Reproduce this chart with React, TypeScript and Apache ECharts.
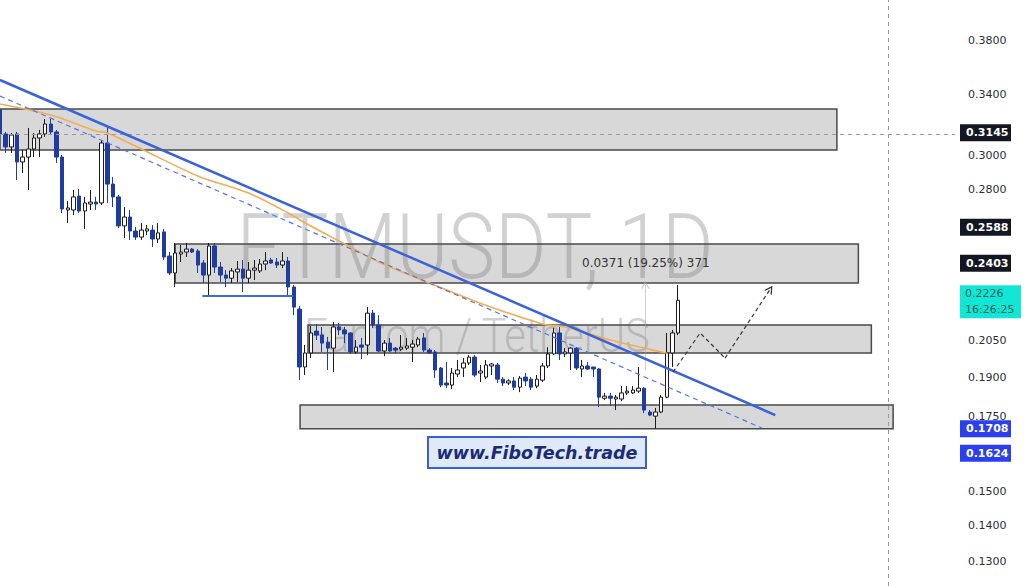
import { useEffect, useRef } from "react";
import * as echarts from "echarts";

// FTM/USDT daily candles, oldest first
const opens = [
  0.3296, 0.3137, 0.3054, 0.3137, 0.2961, 0.2991, 0.3041, 0.3111, 0.3137, 0.3202,
  0.3150, 0.2991, 0.2682, 0.2682, 0.2760, 0.2676, 0.2715, 0.2726, 0.2721, 0.3079,
  0.2829, 0.2755, 0.2595, 0.2643, 0.2568, 0.2536, 0.2568, 0.2573, 0.2526, 0.2563,
  0.2439, 0.2355, 0.2449, 0.2459, 0.2474, 0.2464, 0.2404, 0.2345, 0.2490, 0.2384,
  0.2345, 0.2330, 0.2360, 0.2374, 0.2330, 0.2369, 0.2365, 0.2399, 0.2419, 0.2409,
  0.2394, 0.2414, 0.2288, 0.2186, 0.1940, 0.1997, 0.2089, 0.2072, 0.2042, 0.2017,
  0.2107, 0.2094, 0.2081, 0.2001, 0.2030, 0.2030, 0.2168, 0.2115, 0.2005, 0.2038,
  0.2017, 0.2013, 0.2017, 0.2021, 0.2030, 0.2060, 0.2009, 0.2001, 0.1936, 0.1877,
  0.1869, 0.1912, 0.1936, 0.1956, 0.1980, 0.1916, 0.1900, 0.1944, 0.1948, 0.1892,
  0.1877, 0.1885, 0.1861, 0.1900, 0.1892, 0.1865, 0.1888, 0.1944, 0.1993, 0.2081,
  0.1993, 0.1997, 0.2017, 0.1932, 0.1944, 0.1940, 0.1932, 0.1819, 0.1827, 0.1816,
  0.1816, 0.1839, 0.1839, 0.1846, 0.1857, 0.1768, 0.1753, 0.1768, 0.1823, 0.1997,
  0.2081,
];
const highs = [
  0.3317, 0.3150, 0.3143, 0.3150, 0.3035, 0.3176, 0.3143, 0.3163, 0.3235, 0.3235,
  0.3163, 0.3004, 0.2732, 0.2795, 0.2800, 0.2755, 0.2795, 0.2755, 0.3098, 0.3183,
  0.2871, 0.2766, 0.2698, 0.2682, 0.2589, 0.2611, 0.2600, 0.2600, 0.2611, 0.2579,
  0.2459, 0.2505, 0.2495, 0.2505, 0.2479, 0.2474, 0.2419, 0.2505, 0.2505, 0.2409,
  0.2369, 0.2379, 0.2414, 0.2419, 0.2409, 0.2419, 0.2424, 0.2459, 0.2429, 0.2429,
  0.2459, 0.2434, 0.2297, 0.2200, 0.2030, 0.2111, 0.2120, 0.2107, 0.2064, 0.2129,
  0.2124, 0.2107, 0.2085, 0.2051, 0.2060, 0.2195, 0.2182, 0.2159, 0.2051, 0.2060,
  0.2021, 0.2072, 0.2060, 0.2051, 0.2064, 0.2081, 0.2017, 0.2009, 0.1940, 0.1960,
  0.1936, 0.1968, 0.1976, 0.1988, 0.1988, 0.1948, 0.1968, 0.1956, 0.1956, 0.1900,
  0.1892, 0.1900, 0.1904, 0.1916, 0.1900, 0.1908, 0.1956, 0.2021, 0.2103, 0.2107,
  0.2017, 0.2021, 0.2021, 0.1968, 0.1960, 0.1940, 0.1936, 0.1839, 0.1839, 0.1831,
  0.1865, 0.1865, 0.1865, 0.1940, 0.1861, 0.1775, 0.1783, 0.1831, 0.2081, 0.2094,
  0.2297,
];
const lows = [
  0.3118, 0.3016, 0.3016, 0.2853, 0.2894, 0.2795, 0.2991, 0.2991, 0.3118, 0.3130,
  0.2955, 0.2665, 0.2611, 0.2654, 0.2665, 0.2579, 0.2682, 0.2682, 0.2709, 0.2721,
  0.2698, 0.2584, 0.2531, 0.2521, 0.2521, 0.2521, 0.2547, 0.2485, 0.2505, 0.2419,
  0.2345, 0.2288, 0.2409, 0.2434, 0.2454, 0.2355, 0.2307, 0.2250, 0.2355, 0.2312,
  0.2288, 0.2307, 0.2312, 0.2264, 0.2307, 0.2321, 0.2355, 0.2369, 0.2399, 0.2379,
  0.2379, 0.2241, 0.2159, 0.1888, 0.1908, 0.1976, 0.2051, 0.2001, 0.1928, 0.1920,
  0.2072, 0.2038, 0.1993, 0.1993, 0.1972, 0.1988, 0.2103, 0.2001, 0.1984, 0.2001,
  0.1997, 0.2005, 0.2009, 0.1960, 0.2021, 0.2001, 0.1993, 0.1896, 0.1861, 0.1857,
  0.1853, 0.1900, 0.1900, 0.1948, 0.1900, 0.1881, 0.1892, 0.1908, 0.1877, 0.1865,
  0.1869, 0.1850, 0.1842, 0.1865, 0.1850, 0.1857, 0.1881, 0.1936, 0.1988, 0.1968,
  0.1980, 0.1928, 0.1928, 0.1900, 0.1928, 0.1900, 0.1786, 0.1812, 0.1790, 0.1775,
  0.1808, 0.1831, 0.1835, 0.1839, 0.1764, 0.1753, 0.1708, 0.1764, 0.1819, 0.1940,
  0.2072,
];
const closes = [
  0.3137, 0.3054, 0.3130, 0.2961, 0.2991, 0.3041, 0.3111, 0.3137, 0.3202, 0.3150,
  0.2991, 0.2687, 0.2693, 0.2755, 0.2676, 0.2721, 0.2726, 0.2715, 0.3079, 0.2829,
  0.2755, 0.2595, 0.2643, 0.2568, 0.2536, 0.2573, 0.2579, 0.2526, 0.2558, 0.2434,
  0.2355, 0.2454, 0.2459, 0.2474, 0.2459, 0.2394, 0.2345, 0.2490, 0.2384, 0.2345,
  0.2330, 0.2365, 0.2374, 0.2330, 0.2369, 0.2379, 0.2399, 0.2414, 0.2404, 0.2394,
  0.2414, 0.2288, 0.2195, 0.1940, 0.1997, 0.2081, 0.2072, 0.2038, 0.2017, 0.2107,
  0.2094, 0.2077, 0.2001, 0.2021, 0.2021, 0.2168, 0.2115, 0.2005, 0.2038, 0.2005,
  0.2009, 0.2021, 0.2026, 0.2034, 0.2055, 0.2009, 0.1997, 0.1928, 0.1869, 0.1869,
  0.1916, 0.1928, 0.1956, 0.1980, 0.1908, 0.1924, 0.1948, 0.1952, 0.1892, 0.1877,
  0.1885, 0.1861, 0.1896, 0.1885, 0.1861, 0.1892, 0.1944, 0.1993, 0.2081, 0.1993,
  0.2001, 0.2017, 0.1936, 0.1944, 0.1932, 0.1932, 0.1823, 0.1827, 0.1819, 0.1823,
  0.1839, 0.1846, 0.1850, 0.1857, 0.1775, 0.1757, 0.1768, 0.1823, 0.1997, 0.2081,
  0.2226,
];

// Moving average readings: candle index and price
const maIndex = [0, 9, 17, 19, 25, 35, 44, 51, 54, 62, 67, 76, 85, 96, 100, 108, 117, 118];
const maPrice = [
  0.3337, 0.3262, 0.3156, 0.3143, 0.3041, 0.2877, 0.2777, 0.2665, 0.2611,
  0.2485, 0.2409, 0.2307, 0.2213, 0.212, 0.2107, 0.2051, 0.2001, 0.1997,
];

// Supply / demand zones (candle index span, price span)
const zoneStart = [-1, 31, 54.5, 53.1];
const zoneEnd = [148.1, 151.9, 154.2, 158.05];
const zoneTop = [0.3303, 0.25, 0.2115, 0.1794];
const zoneBottom = [0.3035, 0.2307, 0.1997, 0.1708];

// Drawn trend lines
const resistanceIdx = [0, 137.2];
const resistancePrice = [0.3506, 0.1757];
const channelIdx = [0, 134.9];
const channelPrice = [0.3392, 0.171];
const supportIdx = [35.8, 51.9];
const supportPrice = [0.2246, 0.2246];
const pathIdx = [119.1, 123.9, 128.3, 136.3];
const pathPrice = [0.192, 0.2081, 0.1976, 0.2278];

// Price-range measurement and crosshair
const measureIdx = 114.2;
const measureFrom = 0.1927;
const measureTo = 0.2298;
const measureLabelIdx = 103;
const crosshairIdx = 157.2;
const crosshairPrice = 0.3145;

// Price scale
const priceTicks = [0.38, 0.34, 0.3, 0.28, 0.205, 0.19, 0.175, 0.15, 0.14, 0.13];
const tagPrices = [0.3145, 0.2588, 0.2403, 0.2226, 0.1708, 0.1624];
const tagKinds = ["dark", "dark", "dark", "live", "blue", "blue"];
const countdown = "16:26:25";
const PRICE_TOP = 0.4135;
const PRICE_BOTTOM = 0.1235;
const X_MAX = 169;

const L = Math.log;
const pairs = (xs: number[], ps: number[]) => xs.map((x, i) => [x, L(ps[i])]);
const chevron = "path://M0,10 L5,0 L10,10 L8.4,10 L5,3.2 L1.6,10 Z";

export default function App() {
  const ref = useRef<HTMLDivElement>(null);

  useEffect(() => {
    if (!ref.current) return;
    const chart = echarts.init(ref.current, undefined, { renderer: "svg" });

    const candleData = opens.map((o, i) => [i, L(o), L(closes[i]), L(lows[i]), L(highs[i])]);
    const diff = measureTo - measureFrom;
    const measureText = `${diff.toFixed(4)} (${((diff / measureFrom) * 100).toFixed(2)}%) ${Math.round(diff * 10000)}`;

    chart.setOption({
      animation: false,
      backgroundColor: "#ffffff",
      grid: { left: 0, right: 69, top: 0, bottom: 0, containLabel: false, outerBoundsMode: "none" },
      xAxis: {
        type: "value",
        min: 0,
        max: X_MAX,
        show: false,
        splitLine: { show: false },
      },
      yAxis: {
        type: "value",
        position: "right",
        min: L(PRICE_BOTTOM),
        max: L(PRICE_TOP),
        axisLine: { show: false },
        axisTick: { show: false },
        splitLine: { show: false },
        axisLabel: {
          customValues: priceTicks.map(L),
          formatter: (v: number) => Math.exp(v).toFixed(4),
          color: "#2a2e39",
          fontSize: 11,
          fontFamily: "DejaVu Sans",
          margin: 13,
        },
      },
      series: [
        {
          type: "candlestick",
          data: candleData,
          barWidth: 4,
          z: 2,
          silent: true,
          itemStyle: {
            color: "#ffffff",
            color0: "#1f3d9e",
            borderColor: "#1b1b1b",
            borderColor0: "#1f3d9e",
            borderWidth: 1,
          },
        },
        {
          type: "line",
          data: pairs(maIndex, maPrice),
          smooth: 0.3,
          showSymbol: false,
          silent: true,
          z: 3,
          lineStyle: { color: "#f2ae55", width: 1.6 },
        },
        {
          type: "line",
          data: [],
          z: 4,
          silent: true,
          markArea: {
            silent: true,
            itemStyle: {
              color: "rgba(110,110,110,0.27)",
              borderColor: "#4a4a4a",
              borderWidth: 1.5,
            },
            data: zoneStart.map((s, i) => [
              { coord: [s, L(zoneTop[i])] },
              { coord: [zoneEnd[i], L(zoneBottom[i])] },
            ]),
          },
          markLine: {
            silent: true,
            symbol: ["none", "none"],
            label: { show: false },
            lineStyle: { color: "#9a9a9a", type: [4, 4], width: 1 },
            data: [
              { xAxis: crosshairIdx },
              { yAxis: L(crosshairPrice) },
              [
                {
                  coord: [measureIdx, L(measureFrom)],
                  symbol: "none",
                  lineStyle: { color: "rgba(170,170,170,0.55)", type: "solid", width: 1 },
                },
                { coord: [measureIdx, L(measureTo)], symbol: chevron, symbolSize: [9, 8] },
              ],
            ],
          },
        },
        {
          type: "line",
          data: pairs(channelIdx, channelPrice),
          showSymbol: false,
          silent: true,
          z: 5,
          lineStyle: { color: "#5577dc", width: 1.2, type: [5, 4] },
        },
        {
          type: "line",
          data: pairs(resistanceIdx, resistancePrice),
          showSymbol: false,
          silent: true,
          z: 6,
          lineStyle: { color: "#3a62d9", width: 2.5 },
        },
        {
          type: "line",
          data: pairs(supportIdx, supportPrice),
          showSymbol: false,
          silent: true,
          z: 6,
          lineStyle: { color: "#3a6ae0", width: 2 },
        },
        {
          type: "line",
          data: pairs(pathIdx.slice(0, 3), pathPrice.slice(0, 3)),
          showSymbol: false,
          silent: true,
          z: 6,
          lineStyle: { color: "#333333", width: 1.2, type: [4, 3] },
          markLine: {
            silent: true,
            label: { show: false },
            symbol: ["none", chevron],
            symbolSize: [9, 8],
            lineStyle: { color: "#333333", width: 1.2, type: [4, 3] },
            itemStyle: { color: "#333333" },
            data: [
              [
                { coord: [pathIdx[2], L(pathPrice[2])] },
                { coord: [pathIdx[3], L(pathPrice[3])] },
              ],
            ],
          },
        },
      ],
    });

    const yOf = (p: number) => chart.convertToPixel({ yAxisIndex: 0 }, L(p)) as number;
    const ptOf = (i: number, p: number) =>
      chart.convertToPixel({ gridIndex: 0 }, [i, L(p)]) as number[];

    const tagFont = 'bold 11px "DejaVu Sans"';
    const tags: any[] = [];
    tagPrices.forEach((p, k) => {
      const y = yOf(p);
      const kind = tagKinds[k];
      if (kind === "live") {
        tags.push({
          type: "rect",
          z: 100,
          shape: { x: 960, y: y - 15, width: 61, height: 33 },
          style: { fill: "#12e6d4" },
        });
        tags.push({
          type: "text",
          z: 101,
          style: {
            x: 965, y: y - 7, text: p.toFixed(4), fill: "#1a615c",
            font: '11px "DejaVu Sans"', textAlign: "left", textVerticalAlign: "middle",
          },
        });
        tags.push({
          type: "text",
          z: 101,
          style: {
            x: 965, y: y + 9, text: countdown, fill: "#1a615c",
            font: '11px "DejaVu Sans"', textAlign: "left", textVerticalAlign: "middle",
          },
        });
      } else {
        tags.push({
          type: "rect",
          z: 100,
          shape: { x: 960, y: y - 8.5, width: 51, height: 17 },
          style: { fill: kind === "blue" ? "#2b3ff0" : "#131722" },
        });
        tags.push({
          type: "text",
          z: 101,
          style: {
            x: 966, y, text: p.toFixed(4), fill: "#ffffff",
            font: tagFont, textAlign: "left", textVerticalAlign: "middle",
          },
        });
      }
    });

    const labelPt = ptOf(measureLabelIdx, 0.2405);

    chart.setOption({
      graphic: [
        {
          type: "text",
          z: 0,
          x: 475,
          y: 247,
          scaleX: 0.865,
          silent: true,
          style: {
            text: "FTMUSDT, 1D",
            font: '300 91px Roboto',
            fill: "rgba(135,135,135,0.38)",
            textAlign: "center",
            textVerticalAlign: "middle",
          },
        },
        {
          type: "text",
          z: 0,
          x: 477,
          y: 335,
          scaleX: 0.85,
          silent: true,
          style: {
            text: "Fantom / TetherUS",
            font: '300 49px Roboto',
            fill: "rgba(135,135,135,0.38)",
            textAlign: "center",
            textVerticalAlign: "middle",
          },
        },
        {
          type: "text",
          z: 50,
          silent: true,
          style: {
            x: labelPt[0],
            y: labelPt[1],
            text: measureText,
            font: '12px "DejaVu Sans"',
            fill: "#333333",
            textAlign: "left",
            textVerticalAlign: "middle",
          },
        },
        {
          type: "rect",
          z: 60,
          silent: true,
          shape: { x: 428, y: 437, width: 218, height: 31 },
          style: { fill: "#dfe9f7", stroke: "#3a5fd0", lineWidth: 2 },
        },
        {
          type: "text",
          z: 61,
          silent: true,
          style: {
            x: 537,
            y: 453,
            text: "www.FiboTech.trade",
            font: 'italic bold 17.5px "DejaVu Sans"',
            fill: "#1a2c78",
            textAlign: "center",
            textVerticalAlign: "middle",
          },
        },
        ...tags,
      ],
    });

    return () => chart.dispose();
  }, []);

  return (
    <div
      ref={ref}
      style={{ position: "absolute", left: 0, top: 0, width: 1024, height: 586, background: "#fff" }}
    />
  );
}
